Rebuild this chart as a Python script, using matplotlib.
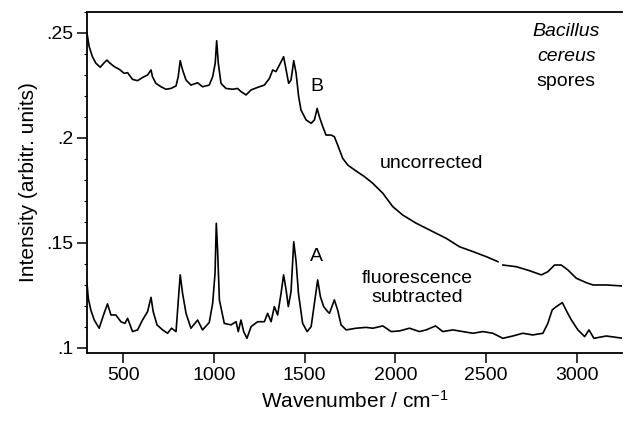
import numpy as np
import matplotlib
matplotlib.use('Agg')
import matplotlib.pyplot as plt
from matplotlib.ticker import FixedLocator, MultipleLocator, FuncFormatter

# Шрифты: Liberation Sans вместо Helvetica
plt.rcParams['font.family'] = ['Liberation Sans', 'DejaVu Sans']
plt.rcParams['mathtext.fontset'] = 'custom'
plt.rcParams['mathtext.rm'] = 'Liberation Sans'
plt.rcParams['mathtext.it'] = 'Liberation Sans:italic'

# Спектр без коррекции (B), разрыв около 2580 см-1
wn_raw = [300, 312, 330, 349, 373, 395, 410, 423, 450, 478, 505, 524, 551, 579,
          606, 634, 653, 661, 680, 708, 735, 763, 791, 803, 814, 827, 846, 873,
          910, 937, 974, 993, 1007, 1015, 1024, 1039, 1066, 1103, 1130, 1149,
          1177, 1205, 1241, 1278, 1306, 1324, 1342, 1366, 1384, 1398, 1412, 1425,
          1440, 1453, 1467, 1480, 1508, 1536, 1554, 1569, 1581, 1600, 1618, 1646,
          1664, 1682, 1710, 1738, 1775, 1802, 1830, 1876, 1931, 1986, 2041, 2115,
          2207, 2281, 2354, 2428, 2501, 2566, 2580, 2593, 2667, 2740, 2805, 2841,
          2878, 2915, 2952, 2998, 3053, 3090, 3164, 3255]
int_raw = [0.2499, 0.2435, 0.2387, 0.2356, 0.2337, 0.2359, 0.2371, 0.2359, 0.2340,
           0.2327, 0.2308, 0.2311, 0.2279, 0.2273, 0.2288, 0.2300, 0.2324, 0.2292,
           0.2260, 0.2244, 0.2232, 0.2236, 0.2248, 0.2292, 0.2368, 0.2324, 0.2276,
           0.2252, 0.2263, 0.2244, 0.2252, 0.2292, 0.2356, 0.2463, 0.2356, 0.2260,
           0.2236, 0.2232, 0.2236, 0.2221, 0.2205, 0.2229, 0.2241, 0.2252, 0.2284,
           0.2324, 0.2316, 0.2356, 0.2387, 0.2324, 0.2260, 0.2276, 0.2368, 0.2308,
           0.2197, 0.2133, 0.2086, 0.2070, 0.2086, 0.2141, 0.2102, 0.2054, 0.2014,
           0.2014, 0.2006, 0.1967, 0.1903, 0.1871, 0.1848, 0.1832, 0.1816, 0.1784,
           0.1737, 0.1673, 0.1633, 0.1594, 0.1554, 0.1522, 0.1482, 0.1459, 0.1435,
           0.1411, np.nan, 0.1395, 0.1387, 0.1368, 0.1348, 0.1363, 0.1395, 0.1395,
           0.1371, 0.1332, 0.1311, 0.1300, 0.1300, 0.1295]

# Спектр после вычитания флуоресценции (A)
wn_sub = [300, 307, 321, 340, 367, 391, 413, 432, 459, 487, 509, 524, 551, 579,
          606, 634, 653, 665, 686, 717, 744, 766, 791, 805, 814, 827, 846, 873,
          910, 937, 974, 993, 1006, 1013, 1020, 1030, 1057, 1094, 1122, 1134,
          1149, 1164, 1182, 1205, 1241, 1278, 1296, 1315, 1333, 1351, 1370, 1384,
          1398, 1410, 1425, 1440, 1453, 1466, 1489, 1514, 1536, 1554, 1572, 1587,
          1605, 1627, 1637, 1664, 1682, 1701, 1729, 1784, 1839, 1876, 1931, 1977,
          2023, 2078, 2133, 2170, 2222, 2262, 2317, 2372, 2428, 2483, 2538, 2593,
          2648, 2703, 2758, 2814, 2841, 2865, 2888, 2921, 2946, 2971, 3007, 3044,
          3068, 3095, 3164, 3255]
int_sub = [0.1308, 0.1237, 0.1181, 0.1133, 0.1094, 0.1157, 0.1210, 0.1157, 0.1157,
           0.1125, 0.1117, 0.1141, 0.1078, 0.1086, 0.1133, 0.1173, 0.1241, 0.1173,
           0.1110, 0.1086, 0.1070, 0.1094, 0.1078, 0.1244, 0.1348, 0.1260, 0.1165,
           0.1094, 0.1133, 0.1086, 0.1121, 0.1213, 0.1356, 0.1594, 0.1467, 0.1229,
           0.1117, 0.1110, 0.1125, 0.1078, 0.1133, 0.1078, 0.1046, 0.1102, 0.1125,
           0.1125, 0.1165, 0.1125, 0.1197, 0.1157, 0.1260, 0.1348, 0.1276, 0.1197,
           0.1268, 0.1506, 0.1411, 0.1260, 0.1117, 0.1078, 0.1102, 0.1213, 0.1324,
           0.1244, 0.1197, 0.1173, 0.1165, 0.1229, 0.1181, 0.1110, 0.1086, 0.1094,
           0.1098, 0.1094, 0.1105, 0.1078, 0.1081, 0.1094, 0.1078, 0.1086, 0.1105,
           0.1078, 0.1086, 0.1078, 0.1070, 0.1078, 0.1070, 0.1046, 0.1057, 0.1070,
           0.1062, 0.1070, 0.1117, 0.1181, 0.1197, 0.1216, 0.1173, 0.1133, 0.1086,
           0.1054, 0.1086, 0.1046, 0.1057, 0.1046]

x_ticks = [500, 1000, 1500, 2000, 2500, 3000]
y_ticks = [0.10, 0.15, 0.20, 0.25]
y_tick_labels = ['.1', '.15', '.2', '.25']

fig = plt.figure(figsize=(6.24, 4.21), dpi=100)
ax = fig.add_axes([87 / 624, 1 - 353 / 421, 535 / 624, 341 / 421])

ax.plot(wn_raw, int_raw, color='black', lw=1.2)
ax.plot(wn_sub, int_sub, color='black', lw=1.2)

ax.set_xlim(300, 3250)
ax.set_ylim(0.0976, 0.26)

ax.spines['right'].set_visible(False)
for s in ['left', 'bottom', 'top']:
    ax.spines[s].set_linewidth(1.3)

ax.xaxis.set_major_locator(FixedLocator(x_ticks))
ax.yaxis.set_major_locator(FixedLocator(y_ticks))
ax.yaxis.set_minor_locator(MultipleLocator(0.01))
ax.yaxis.set_major_formatter(FuncFormatter(
    lambda v, p: y_tick_labels[y_ticks.index(round(v, 2))] if round(v, 2) in y_ticks else ''))
ax.tick_params(axis='both', which='major', direction='out', length=7, width=1.1,
               labelsize=14, pad=3)
ax.tick_params(axis='y', which='minor', direction='out', length=2, width=0.8)
ax.tick_params(top=False, right=False)

ax.set_xlabel('Wavenumber / cm$^{-1}$', fontsize=15)
ax.set_ylabel('Intensity (arbitr. units)', fontsize=15)
ax.xaxis.set_label_coords(0.5, -0.108)
ax.yaxis.set_label_coords(-0.092, 0.5)

# Подписи
ax.text(1570, 0.2243, 'B', fontsize=14, ha='center', va='center')
ax.text(1563, 0.1435, 'A', fontsize=14, ha='center', va='center')
ax.text(2198, 0.188, 'uncorrected', fontsize=14, ha='center', va='center')
ax.text(2122, 0.1286, 'fluorescence\nsubtracted', fontsize=14, ha='center',
        va='center', linespacing=1.15)
ax.text(2943, 0.2507, 'Bacillus', fontsize=14, style='italic', ha='center', va='center')
ax.text(2943, 0.2388, 'cereus', fontsize=14, style='italic', ha='center', va='center')
ax.text(2943, 0.2269, 'spores', fontsize=14, ha='center', va='center')

fig.savefig('out.png', dpi=100)
